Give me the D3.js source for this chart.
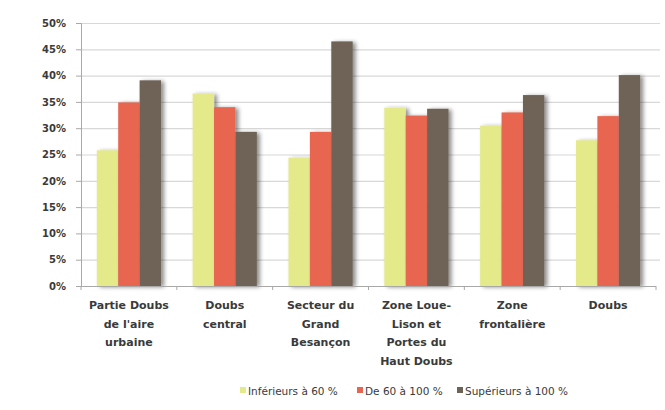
<!DOCTYPE html>
<html>
<head>
<meta charset="utf-8">
<script src="https://cdn.jsdelivr.net/npm/d3@7"></script>
<style>
  body { margin: 0; background: #fff; }
  svg { display: block; }
  text { font-family: "DejaVu Sans", Verdana, sans-serif; fill: #3a3a3a; }
</style>
</head>
<body>
<svg id="chart" width="665" height="410"></svg>
<script>
const categories = [
  "Partie Doubs de l'aire urbaine",
  "Doubs central",
  "Secteur du Grand Besançon",
  "Zone Loue-Lison et Portes du Haut Doubs",
  "Zone frontalière",
  "Doubs"
];
const categoryLines = [
  ["Partie Doubs", "de l'aire", "urbaine"],
  ["Doubs", "central"],
  ["Secteur du", "Grand", "Besançon"],
  ["Zone Loue-", "Lison et", "Portes du", "Haut Doubs"],
  ["Zone", "frontalière"],
  ["Doubs"]
];
const seriesNames = ["Inférieurs à 60 %", "De 60 à 100 %", "Supérieurs à 100 %"];
const inferieurs60 = [25.8, 36.6, 24.4, 33.9, 30.5, 27.7];
const de60a100    = [34.9, 34.0, 29.3, 32.4, 33.0, 32.3];
const superieurs100 = [39.1, 29.3, 46.5, 33.7, 36.3, 40.1];
const seriesValues = [inferieurs60, de60a100, superieurs100];
const yTicks = [0, 5, 10, 15, 20, 25, 30, 35, 40, 45, 50];
const yTickLabels = ["0%", "5%", "10%", "15%", "20%", "25%", "30%", "35%", "40%", "45%", "50%"];
const colors = ["#e4e98a", "#e8664f", "#6e6357"];

const svg = d3.select("#chart");
const plot = { left: 81, right: 656, top: 23, bottom: 286 };

const defs = svg.append("defs");
const f = defs.append("filter").attr("id", "shadow")
  .attr("x", "-20%").attr("y", "-10%").attr("width", "160%").attr("height", "120%");
f.append("feDropShadow").attr("dx", 3).attr("dy", 1).attr("stdDeviation", 2)
  .attr("flood-color", "#000").attr("flood-opacity", 0.45);

const y = d3.scaleLinear().domain([0, 50]).range([plot.bottom, plot.top]);
const x0 = d3.scaleBand().domain(categories).range([plot.left, plot.right])
  .paddingInner(0.33).paddingOuter(0.165);
const x1 = d3.scaleBand().domain(seriesNames).range([0, x0.bandwidth()]);

// gridlines
svg.append("g").selectAll("line").data(yTicks.filter(d => d > 0)).join("line")
  .attr("x1", plot.left).attr("x2", plot.right + 4)
  .attr("y1", d => y(d) + 0.5).attr("y2", d => y(d) + 0.5)
  .attr("stroke", "#d8d8d8").attr("stroke-width", 1.2);

// y axis
const yAxis = d3.axisLeft(y).tickValues(yTicks).tickSize(5).tickPadding(10)
  .tickFormat((d, i) => yTickLabels[i]);
const gy = svg.append("g").attr("transform", `translate(${plot.left},0)`).call(yAxis);
gy.select(".domain").attr("stroke", "#a8a8a8");
gy.selectAll(".tick line").attr("stroke", "#a8a8a8");
gy.selectAll(".tick text").style("font-size", "10px").style("font-weight", "bold").attr("fill", "#505050");

// bars
const groups = svg.append("g").selectAll("g").data(categories).join("g")
  .attr("transform", d => `translate(${x0(d)},0)`);
groups.selectAll("rect")
  .data((c, ci) => seriesNames.map((s, si) => ({ s, si, v: seriesValues[si][ci] })))
  .join("rect")
  .attr("x", d => x1(d.s))
  .attr("y", d => y(d.v))
  .attr("width", x1.bandwidth())
  .attr("height", d => y(0) - y(d.v))
  .attr("fill", d => colors[d.si])
  .attr("filter", "url(#shadow)");

// x axis
const xAxisLine = svg.append("g");
xAxisLine.append("line").attr("x1", plot.left).attr("x2", plot.right)
  .attr("y1", plot.bottom + 0.5).attr("y2", plot.bottom + 0.5).attr("stroke", "#a8a8a8");
xAxisLine.selectAll(".xt").data(d3.range(categories.length + 1)).join("line")
  .attr("x1", i => plot.left + i * (plot.right - plot.left) / categories.length)
  .attr("x2", i => plot.left + i * (plot.right - plot.left) / categories.length)
  .attr("y1", plot.bottom).attr("y2", plot.bottom + 4).attr("stroke", "#a8a8a8");

const labels = svg.append("g").selectAll("text").data(categories).join("text")
  .attr("text-anchor", "middle")
  .attr("transform", d => `translate(${x0(d) + x0.bandwidth() / 2},${plot.bottom + 23})`)
  .style("font-size", "11px").style("font-weight", "bold").attr("fill", "#404040");
labels.each(function (d, i) {
  d3.select(this).selectAll("tspan").data(categoryLines[i]).join("tspan")
    .attr("x", 0).attr("dy", (t, j) => j === 0 ? 0 : 18.5).text(t => t);
});

// legend
const legendItems = [
  { name: seriesNames[0], x: 240 },
  { name: seriesNames[1], x: 357 },
  { name: seriesNames[2], x: 457 }
];
const lg = svg.append("g").selectAll("g").data(legendItems).join("g")
  .attr("transform", d => `translate(${d.x},391)`);
lg.append("rect").attr("x", 0).attr("y", -4).attr("width", 6).attr("height", 6)
  .attr("fill", (d, i) => colors[i]);
lg.append("text").attr("x", 8).attr("y", 3.5).text(d => d.name)
  .style("font-size", "10.5px").attr("fill", "#444");
</script>
</body>
</html>
